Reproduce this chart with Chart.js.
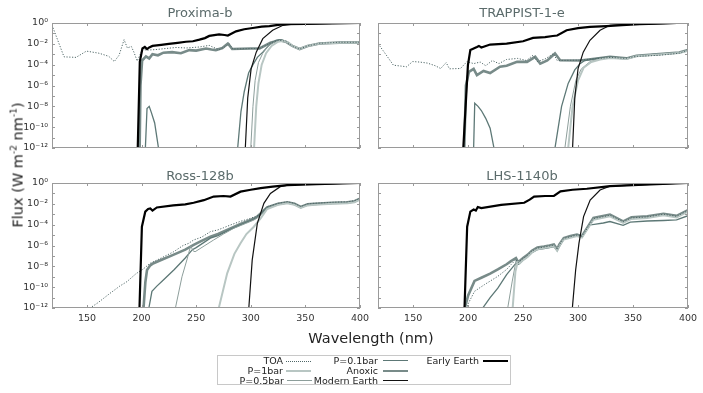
<!DOCTYPE html>
<html><head><meta charset="utf-8">
<script src="https://cdn.jsdelivr.net/npm/chart.js@4"></script>
<style>
body{margin:0;background:#fff;width:703px;height:393px;overflow:hidden;position:relative;font-family:"DejaVu Sans",sans-serif;}
canvas{position:absolute;left:0;top:0;}
.tt{position:absolute;font-size:13px;color:#5b6b6b;transform:translate(-50%,-50%);white-space:nowrap;}
.ax{position:absolute;font-size:14.5px;color:#222;white-space:nowrap;}
.lab{position:absolute;font-size:9.5px;color:#222;text-align:right;white-space:nowrap;line-height:10px;}
.ls{position:absolute;height:0;}
</style></head><body>
<canvas id="c1" width="703" height="393"></canvas>
<canvas id="c2" width="703" height="393"></canvas>
<canvas id="c3" width="703" height="393"></canvas>
<canvas id="c4" width="703" height="393"></canvas>
<div class="tt" style="left:200px;top:12px">Proxima-b</div>
<div class="tt" style="left:522px;top:12px">TRAPPIST-1-e</div>
<div class="tt" style="left:200px;top:175px">Ross-128b</div>
<div class="tt" style="left:522px;top:175px">LHS-1140b</div>
<div class="ax" style="left:17px;top:165px;transform:translate(-50%,-50%) rotate(-90deg)">Flux (W m<sup style="font-size:9px">-2</sup> nm<sup style="font-size:9px">-1</sup>)</div>
<div class="ax" style="left:371px;top:338px;transform:translate(-50%,-50%)">Wavelength (nm)</div>
<div id="legend" style="position:absolute;left:217px;top:355px;width:292px;height:28px;border:1px solid #c8c8c8;"></div>
<script>
// ---- axis ticks ----
const xTicks = [150, 200, 250, 300, 350, 400];
const yTickExps = [0, -1, -2, -3, -4, -5, -6, -7, -8, -9, -10, -11, -12];
const yTickLabels = ['10⁰', '', '10⁻²', '', '10⁻⁴', '', '10⁻⁶', '', '10⁻⁸', '', '10⁻¹⁰', '', '10⁻¹²'];
const panelTitles = ['Proxima-b', 'TRAPPIST-1-e', 'Ross-128b', 'LHS-1140b'];
const seriesNames = ['TOA', 'P=1bar', 'P=0.5bar', 'P=0.1bar', 'Anoxic', 'Modern Earth', 'Early Earth'];

// ---- data: [wavelength nm, log10 flux] ----
const prox_TOA = [[118,-0.2],[129,-3.25],[140,-3.3],[149.5,-2.7],[161,-2.9],[170,-3.2],[175,-3.7],[179.4,-3.1],[184,-1.6],[187,-2.4],[190.6,-2.25],[193,-2.8],[196,-3.65],[200.8,-2.55],[206,-2.6],[213,-2.55],[222,-2.45],[231.5,-2.35],[241,-2.4],[253,-2.3],[262,-2.15],[266,-2.35],[271,-2.55],[276,-2.3],[280.5,-2.0],[283.5,-2.5],[300,-2.45],[308,-2.45],[318,-1.9],[326,-1.65],[332,-1.75],[338,-2.2],[344.7,-2.5],[352,-2.2],[363,-1.95],[381,-1.85],[400,-1.85]];
const prox_P1 = [[302.5,-14],[303,-12],[305,-8],[307,-5.8],[310,-4.0],[314,-2.9],[319,-2.2],[325,-1.8],[330,-1.7],[335,-1.9],[338,-2.2],[344.7,-2.5],[352,-2.2],[363,-1.97],[381,-1.9],[400,-1.9]];
const prox_P05 = [[299.5,-14],[300,-12],[302,-8],[304,-5.5],[307,-3.8],[311,-2.9],[316,-2.2],[322,-1.8],[328,-1.65],[334,-1.85],[338,-2.2],[344.7,-2.5],[352,-2.2],[363,-1.97],[381,-1.9],[400,-1.9]];
const prox_P01 = [[203,-14],[203.5,-12],[205,-8.2],[207,-8.0],[209,-8.6],[212,-9.6],[215.5,-12],[216,-14],[287.5,-14],[288,-12],[291,-8.5],[294,-6.6],[298,-4.8],[302,-4.0],[306,-3.3],[311,-2.8],[317,-2.1],[323,-1.66],[328,-1.6],[334,-1.85],[338,-2.2],[344.7,-2.5],[352,-2.2],[363,-1.97],[381,-1.9],[400,-1.9]];
const prox_Anoxic = [[198,-14],[199,-6],[200.5,-3.6],[204,-3.2],[207,-3.4],[210,-3.0],[215,-3.1],[220,-2.85],[228,-2.8],[236,-2.9],[243.7,-2.6],[250,-2.65],[259,-2.45],[264,-2.55],[268,-2.6],[274,-2.4],[279,-1.97],[283,-2.5],[300,-2.45],[308,-2.45],[318,-1.9],[326,-1.66],[332,-1.8],[338,-2.2],[344.7,-2.5],[352,-2.2],[363,-1.97],[381,-1.88],[400,-1.88]];
const prox_Modern = [[294.5,-14],[295,-12],[297.2,-7.2],[300.3,-4.4],[305,-2.8],[311,-1.5],[320,-0.7],[329.5,-0.22],[338.5,-0.1],[350,-0.08],[375,-0.05],[400,0]];
const prox_Early = [[196,-14],[196.5,-12],[198.4,-3.7],[200.8,-2.45],[203,-2.3],[205,-2.5],[207,-2.35],[210,-2.2],[218,-2.1],[225,-2.0],[233,-1.9],[240.6,-1.8],[247,-1.75],[253,-1.6],[258,-1.45],[262,-1.24],[271,-1.1],[276,-1.15],[279,-1.2],[286.5,-0.8],[294,-0.6],[301.8,-0.48],[310,-0.35],[317,-0.3],[325,-0.18],[332.5,-0.12],[350,-0.08],[375,-0.05],[400,0]];

const trap_TOA = [[118,-1.97],[125,-3.0],[132,-4.05],[144,-4.2],[149.5,-3.7],[156,-3.75],[163,-3.85],[170,-4.1],[175,-4.37],[180,-3.8],[183,-4.4],[193,-4.37],[199,-3.7],[205,-3.9],[211,-3.75],[216,-4.1],[222,-3.6],[228,-3.9],[235,-3.5],[245,-3.4],[253,-3.6],[259,-3.1],[263,-3.7],[270,-3.45],[277.6,-2.94],[281,-3.6],[301,-3.57],[319,-3.4],[330,-3.3],[343,-3.4],[353,-3.2],[374,-3.1],[392,-2.9],[400,-2.6]];
const trap_P1 = [[290.5,-14],[291,-12],[295,-8],[300,-5.5],[305,-4.3],[312,-3.75],[320,-3.5],[329,-3.35],[344,-3.45],[353,-3.2],[371,-3.05],[392,-2.88],[400,-2.65]];
const trap_P05 = [[287.5,-14],[288,-12],[293,-8],[298,-5.5],[303,-4.4],[311,-3.7],[320,-3.45],[329,-3.3],[344,-3.45],[353,-3.2],[371,-3.05],[392,-2.88],[400,-2.65]];
const trap_P01 = [[204.5,-14],[205,-12],[206,-7.7],[209,-8.0],[212,-8.4],[216,-9.15],[220,-10.1],[223.5,-12],[224,-14],[278.5,-14],[279,-12],[285,-8],[291,-5.8],[297,-4.5],[301.8,-3.9],[306,-3.6],[317,-3.4],[329,-3.25],[344,-3.4],[353,-3.15],[371,-3.0],[392,-2.84],[400,-2.6]];
const trap_Anoxic = [[196,-14],[198,-6],[200.7,-4.69],[205,-4.4],[208,-5.0],[214,-4.6],[220,-4.8],[229,-4.2],[235,-4.1],[244.5,-3.73],[253.6,-3.73],[261,-3.25],[265.6,-3.9],[272,-3.6],[279,-2.93],[283.7,-3.57],[301.8,-3.6],[317,-3.4],[329,-3.25],[344,-3.4],[353,-3.15],[371,-3.0],[392,-2.84],[400,-2.6]];
const trap_Modern = [[294.5,-14],[295,-12],[297,-7.2],[300,-4.37],[304.7,-2.8],[310.8,-1.66],[320,-0.7],[329,-0.22],[340,-0.15],[356,-0.12],[380,-0.05],[400,0.05]];
const trap_Early = [[195,-14],[195.6,-12],[199.8,-4.05],[202,-2.6],[205,-2.45],[208,-2.3],[209.8,-2.2],[212,-2.35],[220,-2.07],[235,-1.98],[250,-1.75],[259,-1.43],[270,-1.35],[277,-1.25],[281,-1.2],[289.6,-0.7],[300,-0.5],[310.8,-0.38],[326,-0.3],[340,-0.2],[356,-0.12],[380,-0.05],[400,0.05]];

const ross_TOA = [[148,-13],[152.9,-12],[160,-11.5],[171,-10.6],[180,-9.9],[186.6,-9.47],[195,-8.7],[201,-8.3],[208,-7.7],[218,-7.2],[229.4,-6.6],[238,-6.0],[243,-5.8],[247.7,-5.47],[255,-5.2],[263,-4.67],[270,-4.5],[275,-4.3],[281.4,-4.03],[290,-3.7],[299.8,-3.39],[307,-3.1],[315,-2.27],[325,-1.95],[333.5,-1.8],[340,-1.95],[345.7,-2.27],[352,-2.0],[358,-1.95],[375,-1.85],[388.5,-1.8],[395,-1.7],[400,-1.47]];
const ross_P1 = [[270.5,-14],[270.7,-12],[278.4,-8.67],[285,-6.8],[290.6,-5.78],[296,-4.9],[302.8,-4.2],[309,-3.39],[315,-2.5],[325,-2.1],[333.5,-1.95],[340,-2.1],[345.7,-2.4],[352,-2.15],[358,-2.1],[375,-2.0],[388.5,-1.95],[395,-1.85],[400,-1.6]];
const ross_P05 = [[230.5,-14],[231,-12],[237,-9],[242,-7.2],[245,-6.0],[247,-6.5],[249,-6.6],[258,-6.0],[266,-5.47],[275,-4.9],[284.4,-4.35],[295,-3.9],[303,-3.55],[308,-3.2],[315,-2.45],[325,-2.1],[333.5,-1.95],[340,-2.1],[345.7,-2.4],[352,-2.15],[358,-2.1],[375,-2.0],[388.5,-1.95],[395,-1.85],[400,-1.6]];
const ross_P01 = [[206.5,-14],[206.7,-12],[209.5,-10.4],[214,-9.9],[219,-9.4],[230,-8.3],[240,-7.2],[246.5,-6.4],[250,-6.2],[263,-5.3],[270,-5.05],[281.4,-4.45],[290,-4.05],[299.8,-3.6],[305,-3.35],[315,-2.4],[325,-2.05],[333.5,-1.9],[340,-2.05],[345.7,-2.35],[352,-2.1],[358,-2.05],[375,-1.95],[388.5,-1.9],[395,-1.8],[400,-1.55]];
const ross_Anoxic = [[201.5,-14],[201.8,-12],[203.5,-9.5],[205,-8.35],[208,-7.9],[211,-7.7],[220,-7.3],[229,-6.9],[240,-6.4],[247.7,-5.95],[254,-5.6],[263,-5.15],[270,-4.9],[281.4,-4.35],[290,-3.95],[299.8,-3.55],[305,-3.3],[315,-2.35],[325,-2.0],[333.5,-1.85],[340,-2.0],[345.7,-2.3],[352,-2.05],[358,-2.0],[375,-1.9],[388.5,-1.85],[395,-1.75],[400,-1.5]];
const ross_Modern = [[297.8,-14],[298.2,-12],[301.3,-7.4],[306,-3.87],[312,-1.95],[318,-1.0],[327,-0.35],[336,-0.15],[360,-0.1],[400,0]];
const ross_Early = [[197.5,-14],[198.1,-12],[200.3,-4.2],[203.4,-2.75],[206,-2.5],[208,-2.45],[210,-2.65],[214,-2.35],[229,-2.15],[240,-2.05],[247.7,-1.9],[257,-1.65],[266,-1.3],[275,-1.25],[281.4,-1.3],[290.6,-0.83],[300,-0.65],[309,-0.5],[320,-0.35],[333.5,-0.2],[360,-0.1],[400,0]];

const lhs_TOA = [[198.5,-14],[199.5,-11.7],[205.8,-10.4],[214.8,-9.76],[227,-8.96],[235,-8.3],[239,-7.84],[243.5,-7.35],[245.5,-7.65],[250,-7.25],[254,-6.95],[258,-6.55],[263,-6.25],[269,-6.15],[274,-6.05],[278,-5.95],[281,-6.4],[283,-5.95],[287,-5.33],[293,-5.15],[299,-5.0],[303.5,-5.15],[314,-3.42],[329,-3.1],[341,-3.72],[348.6,-3.35],[363,-3.25],[377.7,-3.0],[389.6,-3.2],[400,-2.65]];
const lhs_P1 = [[240,-14],[240.5,-12],[243,-8.5],[245,-7.6],[247,-7.7],[250,-7.4],[254,-7.1],[258,-6.65],[263,-6.35],[269,-6.25],[274,-6.15],[278,-6.05],[281,-6.5],[283,-6.05],[287,-5.42],[293,-5.25],[299,-5.1],[303.5,-5.25],[314,-3.52],[329,-3.2],[341,-3.82],[348.6,-3.45],[363,-3.35],[377.7,-3.1],[389.6,-3.3],[400,-2.75]];
const lhs_P05 = [[235.5,-14],[236,-12],[240,-9.5],[243.5,-7.5],[245.5,-7.75],[250,-7.35],[254,-7.05],[258,-6.6],[263,-6.3],[269,-6.2],[274,-6.1],[278,-6.0],[281,-6.45],[283,-6.0],[287,-5.38],[293,-5.2],[299,-5.05],[303.5,-5.2],[314,-3.48],[329,-3.15],[341,-3.78],[348.6,-3.4],[363,-3.3],[377.7,-3.05],[389.6,-3.25],[400,-2.7]];
const lhs_P01 = [[212.8,-14],[213.3,-12],[220,-11],[227,-10.1],[235,-8.8],[243.5,-7.7],[246,-7.8],[250,-7.4],[254,-7.1],[258,-6.7],[263,-6.4],[269,-6.3],[274,-6.2],[278,-6.1],[281,-6.5],[283,-6.1],[287,-5.4],[293,-5.2],[299,-5.05],[303.5,-5.15],[311,-4.03],[323,-3.84],[329,-3.7],[341,-4.06],[347.5,-3.75],[363,-3.65],[377.7,-3.6],[389.6,-3.55],[400,-3.14]];
const lhs_Anoxic = [[196.5,-14],[197,-12],[200,-10.8],[205.8,-9.4],[212,-9.1],[220,-8.7],[227,-8.3],[235,-7.8],[239,-7.5],[243.5,-7.2],[245.5,-7.6],[250,-7.2],[254,-6.9],[258,-6.5],[263,-6.2],[269,-6.1],[274,-6.0],[278,-5.9],[281,-6.35],[283,-5.9],[287,-5.28],[293,-5.1],[299,-4.96],[303.5,-5.1],[314,-3.36],[329,-3.04],[341,-3.68],[348.6,-3.3],[363,-3.2],[377.7,-2.95],[389.6,-3.15],[400,-2.6]];
const lhs_Modern = [[294.5,-14],[294.8,-12],[297.8,-8.35],[300.8,-5.8],[305,-3.23],[311,-1.63],[320,-0.67],[329,-0.3],[360,-0.15],[400,0]];
const lhs_Early = [[196.2,-14],[196.7,-12],[199.1,-4.2],[202,-2.75],[205,-2.55],[207,-2.65],[208.8,-2.3],[212,-2.4],[230,-2.1],[251,-1.9],[256,-1.6],[260,-1.3],[270,-1.25],[278,-1.25],[284,-0.8],[295,-0.65],[308,-0.55],[329,-0.3],[360,-0.15],[400,0]];

// ---- styles ----
const styles = {
  'TOA':          {color:'#4f6767', width:1,   dash:[1.2,1.6]},
  'P=1bar':       {color:'#b8c6c3', width:2,   dash:[]},
  'P=0.5bar':     {color:'#8d9e9b', width:1,   dash:[]},
  'P=0.1bar':     {color:'#5d7876', width:1.3, dash:[]},
  'Anoxic':       {color:'#788b89', width:2.6, dash:[]},
  'Modern Earth': {color:'#111111', width:1.2, dash:[]},
  'Early Earth':  {color:'#000000', width:2.2, dash:[]}
};
const drawOrder = ['Early Earth','Modern Earth','TOA','P=1bar','P=0.5bar','P=0.1bar','Anoxic'];

const panels = [
  {id:'c1', area:{l:52,t:23,r:360,b:148}, showX:false, showY:true,
   s:{'TOA':prox_TOA,'P=1bar':prox_P1,'P=0.5bar':prox_P05,'P=0.1bar':prox_P01,'Anoxic':prox_Anoxic,'Modern Earth':prox_Modern,'Early Earth':prox_Early}},
  {id:'c2', area:{l:378,t:23,r:688,b:148}, showX:false, showY:false,
   s:{'TOA':trap_TOA,'P=1bar':trap_P1,'P=0.5bar':trap_P05,'P=0.1bar':trap_P01,'Anoxic':trap_Anoxic,'Modern Earth':trap_Modern,'Early Earth':trap_Early}},
  {id:'c3', area:{l:52,t:183,r:360,b:308}, showX:true, showY:true,
   s:{'TOA':ross_TOA,'P=1bar':ross_P1,'P=0.5bar':ross_P05,'P=0.1bar':ross_P01,'Anoxic':ross_Anoxic,'Modern Earth':ross_Modern,'Early Earth':ross_Early}},
  {id:'c4', area:{l:378,t:183,r:688,b:308}, showX:true, showY:false,
   s:{'TOA':lhs_TOA,'P=1bar':lhs_P1,'P=0.5bar':lhs_P05,'P=0.1bar':lhs_P01,'Anoxic':lhs_Anoxic,'Modern Earth':lhs_Modern,'Early Earth':lhs_Early}}
];

const framePlugin = {
  id:'frame',
  afterDraw(chart){
    const {ctx, chartArea:a, scales:{x, y}} = chart;
    ctx.save();
    ctx.strokeStyle = '#9a9a9a';
    ctx.lineWidth = 1;
    ctx.strokeRect(Math.round(a.left)+0.5, Math.round(a.top)+0.5, Math.round(a.right-a.left)-1, Math.round(a.bottom-a.top)-1);
    ctx.beginPath();
    for (const t of y.ticks) {
      const py = Math.round(y.getPixelForValue(t.value)) + 0.5;
      ctx.moveTo(a.left, py); ctx.lineTo(a.left+3, py);
      ctx.moveTo(a.right-3, py); ctx.lineTo(a.right, py);
    }
    for (const t of x.ticks) {
      const px = Math.round(x.getPixelForValue(t.value)) + 0.5;
      ctx.moveTo(px, a.top); ctx.lineTo(px, a.top+3);
      ctx.moveTo(px, a.bottom-3); ctx.lineTo(px, a.bottom);
    }
    ctx.stroke();
    ctx.restore();
  }
};

for (const p of panels) {
  const yW = p.showY ? 40 : 0;
  const xH = p.showX ? 20 : 0;
  const datasets = drawOrder.map(name => ({
    label: name,
    data: p.s[name].map(([w, e]) => ({x: w, y: Math.pow(10, e)})),
    borderColor: styles[name].color,
    borderWidth: styles[name].width,
    borderDash: styles[name].dash,
    pointRadius: 0,
    tension: 0,
    fill: false
  }));
  new Chart(document.getElementById(p.id), {
    type: 'line',
    data: {datasets},
    options: {
      responsive: false,
      animation: false,
      devicePixelRatio: 1,
      events: [],
      layout: {autoPadding: false, padding: {left: p.area.l - yW, top: p.area.t, right: 703 - p.area.r, bottom: 393 - p.area.b - xH}},
      plugins: {legend: {display: false}, tooltip: {enabled: false}},
      scales: {
        x: {
          type: 'linear', min: 118, max: 400,
          grid: {display: false, drawTicks: false},
          border: {display: false},
          afterBuildTicks: s => { s.ticks = xTicks.map(v => ({value: v})); },
          afterFit: s => { s.height = xH; },
          ticks: {display: p.showX, autoSkip: false, padding: 5, color: '#333', font: {family: 'DejaVu Sans', size: 9.5},
                  callback: v => String(v)}
        },
        y: {
          type: 'logarithmic', min: 1e-12, max: 1,
          grid: {display: false, drawTicks: false},
          border: {display: false},
          afterBuildTicks: s => { s.ticks = yTickExps.map(e => ({value: Math.pow(10, e)})); },
          afterFit: s => { s.width = yW; },
          ticks: {display: p.showY, autoSkip: false, padding: 4, color: '#333', font: {family: 'DejaVu Sans', size: 9.5},
                  callback: (v, i) => yTickLabels[i]}
        }
      }
    },
    plugins: [framePlugin]
  });
}

// ---- legend (HTML) ----
const legendItems = [
  {name:'TOA', labelRight:283, lineL:286, row:0},
  {name:'P=1bar', labelRight:283, lineL:286, row:1},
  {name:'P=0.5bar', labelRight:284, lineL:287, row:2},
  {name:'P=0.1bar', labelRight:378, lineL:383, row:0},
  {name:'Anoxic', labelRight:378, lineL:383, row:1},
  {name:'Modern Earth', labelRight:378, lineL:383, row:2},
  {name:'Early Earth', labelRight:479, lineL:483, row:0}
];
const rowY = [361, 371, 381];
for (const it of legendItems) {
  const st = styles[it.name];
  const lab = document.createElement('div');
  lab.className = 'lab';
  lab.textContent = it.name;
  lab.style.left = (it.labelRight - 100) + 'px';
  lab.style.width = '100px';
  lab.style.top = (rowY[it.row] - 5) + 'px';
  document.body.appendChild(lab);
  const ln = document.createElement('div');
  ln.className = 'ls';
  ln.style.left = it.lineL + 'px';
  ln.style.width = '25px';
  const w = it.name === 'TOA' ? 1 : Math.max(1, st.width + 0.2);
  ln.style.top = (rowY[it.row] - w/2) + 'px';
  ln.style.borderTop = w + 'px ' + (it.name === 'TOA' ? 'dotted ' : 'solid ') + st.color;
  document.body.appendChild(ln);
}
</script>
</body></html>
